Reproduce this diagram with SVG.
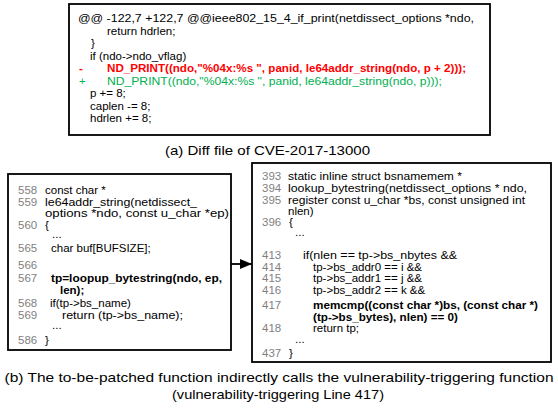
<svg xmlns="http://www.w3.org/2000/svg" width="558" height="409" viewBox="0 0 558 409">
<style>
text{font-family:"Liberation Sans",Arial,sans-serif;font-size:11.5px;fill:#000}
.n{fill:#7f7f7f}
.b{font-weight:bold}
.red{fill:#ff0000;font-weight:bold}
.grn{fill:#00b050}
.cap{font-size:13.5px}
.box{fill:#fff;stroke:#000;stroke-width:1.8}
</style>
<defs>
<marker id="ah" markerWidth="12" markerHeight="10" refX="12" refY="5" orient="auto" markerUnits="userSpaceOnUse">
<path d="M0,0 L12,5 L0,10 Z" fill="#000"/>
</marker>
</defs>
<rect width="558" height="409" fill="#fff"/>

<g id="diff">
<rect class="box" x="69" y="4" width="421" height="131" stroke-width="1.5"/>
<text x="78" y="22" textLength="396" lengthAdjust="spacingAndGlyphs">@@ -122,7 +122,7 @@ieee802_15_4_if_print(netdissect_options *ndo,</text>
<text x="107" y="34.5">return hdrlen;</text>
<text x="91" y="47">}</text>
<text x="90" y="59.5">if (ndo-&gt;ndo_vflag)</text>
<text x="79" y="72" class="red">-</text>
<text x="107" y="72" class="red" textLength="359" lengthAdjust="spacingAndGlyphs">ND_PRINT((ndo,"%04x:%s ", panid, le64addr_string(ndo, p + 2)));</text>
<text x="79" y="84.5" class="grn">+</text>
<text x="107" y="84.5" class="grn" textLength="335" lengthAdjust="spacingAndGlyphs">ND_PRINT((ndo,"%04x:%s ", panid, le64addr_string(ndo, p)));</text>
<text x="90" y="97">p += 8;</text>
<text x="90" y="109.5">caplen -= 8;</text>
<text x="90" y="122">hdrlen += 8;</text>
</g>

<g id="caption-a">
<text class="cap" x="165" y="155" textLength="205" lengthAdjust="spacingAndGlyphs">(a) Diff file of CVE-2017-13000</text>
</g>

<g id="caller">
<rect class="box" x="8" y="174" width="223" height="176"/>
<text class="n" x="18" y="194">558</text><text x="45" y="194">const char *</text>
<text class="n" x="18" y="205.5">559</text><text x="45" y="205.5" textLength="152" lengthAdjust="spacingAndGlyphs">le64addr_string(netdissect_</text>
<text x="45" y="217" textLength="184" lengthAdjust="spacingAndGlyphs">options *ndo, const u_char *ep)</text>
<text class="n" x="18" y="229">560</text><text x="45" y="229">{</text>
<text x="52" y="238">...</text>
<text class="n" x="18" y="252">565</text><text x="51" y="252">char buf[BUFSIZE];</text>
<text class="n" x="18" y="269">566</text>
<text class="n" x="18" y="282">567</text><text class="b" x="51" y="282" textLength="171" lengthAdjust="spacingAndGlyphs">tp=loopup_bytestring(ndo, ep,</text>
<text class="b" x="60" y="294">len);</text>
<text class="n" x="18" y="307">568</text><text x="50" y="307">if(tp-&gt;bs_name)</text>
<text class="n" x="18" y="319">569</text><text x="62" y="319" textLength="121" lengthAdjust="spacingAndGlyphs">return (tp-&gt;bs_name);</text>
<text x="52" y="329">...</text>
<text class="n" x="18" y="344">586</text><text x="45" y="344">}</text>
</g>

<g id="callee">
<rect class="box" x="252" y="163" width="299" height="199"/>
<text class="n" x="262" y="180">393</text><text x="288" y="180" textLength="174" lengthAdjust="spacingAndGlyphs">static inline struct bsnamemem *</text>
<text class="n" x="262" y="192">394</text><text x="288" y="192" textLength="239" lengthAdjust="spacingAndGlyphs">lookup_bytestring(netdissect_options * ndo,</text>
<text class="n" x="262" y="204">395</text><text x="288" y="204" textLength="237" lengthAdjust="spacingAndGlyphs">register const u_char *bs, const unsigned int</text>
<text x="288" y="215">nlen)</text>
<text class="n" x="262" y="226">396</text><text x="289" y="226">{</text>
<text x="295" y="236">...</text>
<text class="n" x="262" y="259">413</text><text x="303" y="259" textLength="154" lengthAdjust="spacingAndGlyphs">if(nlen == tp-&gt;bs_nbytes &amp;&amp;</text>
<text class="n" x="262" y="270.5">414</text><text x="313" y="270.5">tp-&gt;bs_addr0 == i &amp;&amp;</text>
<text class="n" x="262" y="282">415</text><text x="313" y="282">tp-&gt;bs_addr1 == j &amp;&amp;</text>
<text class="n" x="262" y="294">416</text><text x="313" y="294">tp-&gt;bs_addr2 == k &amp;&amp;</text>
<text class="n" x="262" y="309">417</text><text class="b" x="313" y="309" textLength="225" lengthAdjust="spacingAndGlyphs">memcmp((const char *)bs, (const char *)</text>
<text class="b" x="313" y="320.5" textLength="145" lengthAdjust="spacingAndGlyphs">(tp-&gt;bs_bytes), nlen) == 0)</text>
<text class="n" x="262" y="332">418</text><text x="313" y="332">return tp;</text>
<text x="295" y="343">...</text>
<text class="n" x="262" y="357">437</text><text x="289" y="357">}</text>
</g>

<g id="connectors">
<line x1="231" y1="264" x2="252" y2="264" stroke="#000" stroke-width="1.8" marker-end="url(#ah)"/>
</g>

<g id="caption-b">
<text class="cap" x="279" y="382" text-anchor="middle" textLength="549" lengthAdjust="spacingAndGlyphs">(b) The to-be-patched function indirectly calls the vulnerability-triggering function</text>
<text class="cap" x="172" y="399" textLength="212" lengthAdjust="spacingAndGlyphs">(vulnerability-triggering Line 417)</text>
</g>
</svg>
